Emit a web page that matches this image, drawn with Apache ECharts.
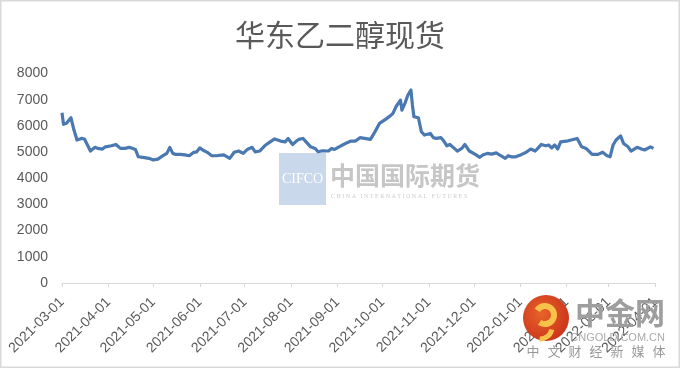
<!DOCTYPE html>
<html>
<head>
<meta charset="utf-8">
<script src="https://cdn.jsdelivr.net/npm/echarts@6/dist/echarts.min.js"></script>
<style>
html,body{margin:0;padding:0;background:#fff;}
#c{width:680px;height:368px;}
</style>
</head>
<body>
<div id="c"></div>
<script>
const title = '华东乙二醇现货';
const dates = [
'2021-03-01','2021-03-02','2021-03-04','2021-03-07','2021-03-08','2021-03-09','2021-03-11','2021-03-14','2021-03-16','2021-03-20',
'2021-03-23','2021-03-25','2021-03-28','2021-03-30','2021-03-31','2021-04-03','2021-04-06','2021-04-09','2021-04-12','2021-04-15',
'2021-04-19','2021-04-21','2021-04-24','2021-04-28','2021-05-01','2021-05-04','2021-05-08','2021-05-10','2021-05-12','2021-05-14',
'2021-05-16','2021-05-19','2021-05-22','2021-05-25','2021-05-28','2021-05-30','2021-06-01','2021-06-03','2021-06-06','2021-06-09',
'2021-06-12','2021-06-17','2021-06-21','2021-06-24','2021-06-27','2021-06-30','2021-07-03','2021-07-06','2021-07-08','2021-07-11',
'2021-07-15','2021-07-18','2021-07-21','2021-07-25','2021-07-28','2021-07-30','2021-08-02','2021-08-04','2021-08-06','2021-08-09',
'2021-08-11','2021-08-14','2021-08-17','2021-08-19','2021-08-22','2021-08-26','2021-08-28','2021-08-30','2021-09-02','2021-09-05',
'2021-09-07','2021-09-10','2021-09-13','2021-09-16','2021-09-19','2021-09-23','2021-09-26','2021-09-29','2021-10-03','2021-10-06',
'2021-10-08','2021-10-10','2021-10-13','2021-10-14','2021-10-16','2021-10-18','2021-10-20','2021-10-21','2021-10-22','2021-10-23',
'2021-10-25','2021-10-27','2021-10-29','2021-11-02','2021-11-04','2021-11-06','2021-11-09','2021-11-11','2021-11-13','2021-11-15',
'2021-11-18','2021-11-20','2021-11-23','2021-11-25','2021-11-28','2021-12-02','2021-12-05','2021-12-07','2021-12-10','2021-12-13',
'2021-12-16','2021-12-19','2021-12-22','2021-12-24','2021-12-26','2021-12-29','2022-01-02','2022-01-05','2022-01-08','2022-01-11',
'2022-01-13','2022-01-15','2022-01-18','2022-01-20','2022-01-22','2022-01-24','2022-01-26','2022-01-28','2022-02-02','2022-02-08',
'2022-02-11','2022-02-14','2022-02-18','2022-02-22','2022-02-25','2022-02-28','2022-03-02','2022-03-04','2022-03-06','2022-03-09',
'2022-03-11','2022-03-14','2022-03-16','2022-03-20','2022-03-23','2022-03-25','2022-03-29','2022-03-31'
];
const prices = [
6500,6060,6100,6310,6260,5840,5460,5520,5500,5040,
5180,5140,5115,5200,5160,5240,5290,5140,5140,5180,
5100,4820,4800,4760,4700,4730,4880,4950,5180,4950,
4910,4910,4890,4860,4990,5010,5160,5080,4990,4860,
4860,4890,4760,4990,5040,4950,5110,5180,5010,5040,
5270,5390,5500,5420,5390,5520,5290,5390,5485,5520,
5390,5200,5140,5010,5050,5040,5140,5100,5200,5290,
5350,5420,5420,5550,5520,5485,5775,6095,6250,6370,
6480,6730,6985,6600,6860,7180,7370,6800,6350,6410,
6310,5775,5650,5710,5550,5520,5550,5420,5240,5290,
5140,5040,5140,5290,5040,4910,4800,4885,4950,4920,
4970,4860,4760,4860,4820,4820,4910,4990,5115,5040,
5160,5290,5240,5270,5160,5270,5115,5390,5430,5520,
5200,5140,4910,4910,4990,4860,4820,5270,5460,5620,
5330,5200,5040,5180,5115,5080,5200,5140
];
const xMin = '2021-03-01';
const xMax = '2022-04-01';
const yTicks = [0,1000,2000,3000,4000,5000,6000,7000,8000];
const sloganChars = ['中','文','财','经','新','媒','体'];

const chart = echarts.init(document.getElementById('c'), null, {renderer:'canvas'});
const DAY = 86400000;
const graphics = [
  {type:'rect',shape:{x:0.5,y:0.5,width:679,height:367},style:{fill:'none',stroke:'#d9d9d9',lineWidth:2},silent:true,z:100},
  {type:'rect',shape:{x:279,y:153,width:47,height:52},style:{fill:'#c9d8ea'},silent:true,z:1},
  {type:'text',x:302.5,y:179,style:{text:'CIFCO',fill:'#ffffff',font:'14px "Liberation Serif", serif',align:'center',verticalAlign:'middle'},silent:true,z:2},
  {type:'text',x:330,y:175,style:{text:'中国国际期货',fill:'#c6c6c6',font:'bold 25px "Noto Sans CJK SC", sans-serif',align:'left',verticalAlign:'middle'},silent:true,z:1},
  {type:'text',x:331,y:196,style:{text:'C H I N A   I N T E R N A T I O N A L   F U T U R E S',fill:'#cccccc',font:'6px "Liberation Serif", serif',align:'left',verticalAlign:'middle'},silent:true,z:1},
  {type:'circle',shape:{cx:546,cy:318,r:23},style:{fill:new echarts.graphic.RadialGradient(0.4,0.4,0.7,[{offset:0,color:'#e8622a'},{offset:1,color:'#c9311a'}])},silent:true,z:50},
  {type:'arc',shape:{cx:545,cy:315,r:9,startAngle:-2.6,endAngle:2.2},style:{stroke:'#f7c24a',lineWidth:6,fill:'none'},silent:true,z:51},
  {type:'arc',shape:{cx:540,cy:327,r:12,startAngle:0.2,endAngle:1.6},style:{stroke:'#f7c24a',lineWidth:5,fill:'none'},silent:true,z:51},
  {type:'text',x:575,y:313,style:{text:'中金网',fill:'#9e9e9e',font:'bold 30px "Noto Sans CJK SC", sans-serif',align:'left',verticalAlign:'middle'},silent:true,z:50},
  {type:'text',x:665,y:338,style:{text:'CNGOLD.COM.CN',fill:'#aaaaaa',font:'11px "Liberation Sans", sans-serif',align:'right',verticalAlign:'middle'},silent:true,z:50}
];
sloganChars.forEach((ch,i)=>{
  graphics.push({type:'text',x:533+i*21,y:351,style:{text:ch,fill:'#999999',font:'13px "Noto Sans CJK SC", sans-serif',align:'center',verticalAlign:'middle'},silent:true,z:50});
});
chart.setOption({
  animation:false,
  backgroundColor:'#ffffff',
  title:{text:title,left:'center',top:15,textStyle:{fontFamily:'"Noto Sans CJK SC", sans-serif',fontSize:30,fontWeight:'normal',color:'#595959'}},
  grid:{left:62,right:25,top:73.5,bottom:85,containLabel:false},
  xAxis:{
    type:'time', min:xMin, max:xMax,
    minInterval:28*DAY, maxInterval:31*DAY,
    axisLine:{show:true,lineStyle:{color:'#d9d9d9',width:1}},
    axisTick:{show:true,length:4,lineStyle:{color:'#d9d9d9'}},
    splitLine:{show:false},
    axisLabel:{formatter:'{yyyy}-{MM}-{dd}',rotate:45,margin:17,color:'#595959',fontSize:14,fontFamily:'"Liberation Sans", Arial, sans-serif',showMinLabel:true,showMaxLabel:true,hideOverlap:false}
  },
  yAxis:{
    type:'value', min:yTicks[0], max:yTicks[yTicks.length-1], interval:yTicks[1]-yTicks[0],
    axisLine:{show:false}, axisTick:{show:false}, splitLine:{show:false},
    axisLabel:{color:'#595959',fontSize:14,margin:14,fontFamily:'"Liberation Sans", Arial, sans-serif',formatter:v=>String(v)}
  },
  series:[{
    type:'line', showSymbol:false, symbol:'none',
    lineStyle:{color:'#4a78b0',width:3.2,join:'round'},
    data:dates.map((d,i)=>[d,prices[i]]),
    z:3
  }],
  graphic:graphics
});
</script>
</body>
</html>
